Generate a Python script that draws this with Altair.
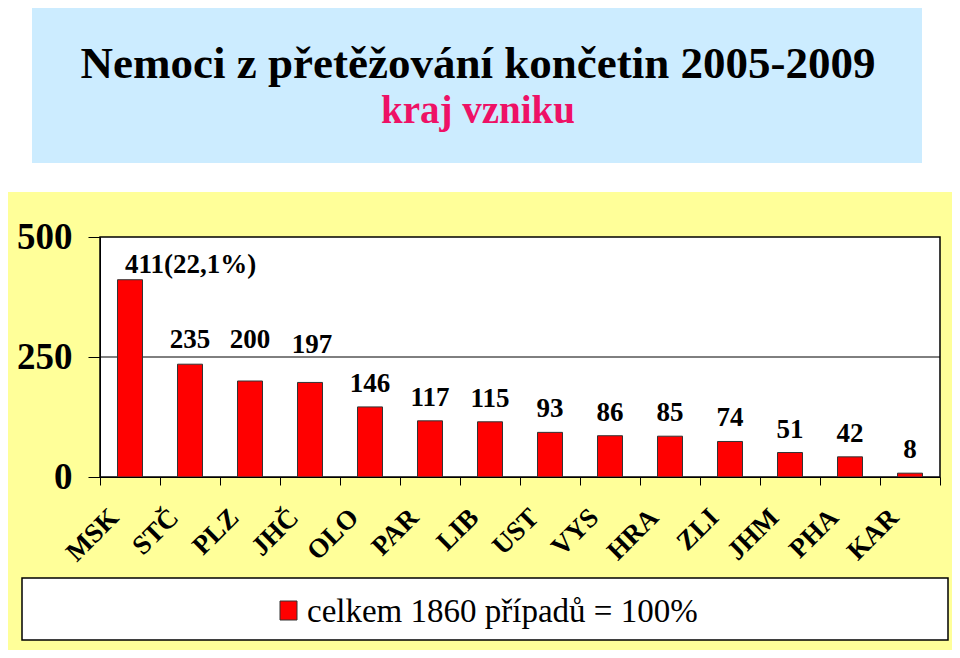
import altair as alt
import pandas as pd

# ---- data ----
regions = ["MSK", "STČ", "PLZ", "JHČ", "OLO", "PAR", "LIB", "UST", "VYS", "HRA", "ZLI", "JHM", "PHA", "KAR"]
values = [411, 235, 200, 197, 146, 117, 115, 93, 86, 85, 74, 51, 42, 8]
total = 1860
y_ticks = [0, 250, 500]
grid_values = [250]
title_text = "Nemoci z přetěžování končetin 2005-2009"
subtitle_text = "kraj vzniku"
legend_text = "celkem 1860 případů = 100%"

labels = [str(v) for v in values]
labels[0] = f"{values[0]}({values[0] / total * 100:.1f}%)".replace(".", ",")

df = pd.DataFrame({"region": regions, "value": values, "label": labels})
df["order"] = range(len(df))
grid_df = pd.DataFrame({"value": grid_values})

FONT = "Liberation Serif, Times New Roman, DejaVu Serif, serif"
one = alt.Data(values=[{}])

# view coords: origin at plot area top-left (page 100,237); plot 840x240
yellow = alt.Chart(one).mark_rect(color="#FFFF99").encode(
    x=alt.value(-92), x2=alt.value(852), y=alt.value(-45), y2=alt.value(413))
blue = alt.Chart(one).mark_rect(color="#CCECFF").encode(
    x=alt.value(-68), x2=alt.value(822), y=alt.value(-229), y2=alt.value(-74))
plot_bg = alt.Chart(one).mark_rect(color="white", stroke="black", strokeWidth=1.5).encode(
    x=alt.value(0), x2=alt.value(840), y=alt.value(0), y2=alt.value(240))
legend_box = alt.Chart(one).mark_rect(color="white", stroke="black", strokeWidth=1.5).encode(
    x=alt.value(-78), x2=alt.value(848), y=alt.value(341), y2=alt.value(403))
legend_sym = alt.Chart(one).mark_rect(color="#FF0000", stroke="#333333", strokeWidth=1).encode(
    x=alt.value(180), x2=alt.value(197), y=alt.value(364), y2=alt.value(383))
legend_lbl = alt.Chart(one).mark_text(font=FONT, fontSize=33, align="left", baseline="alphabetic", color="black").encode(
    x=alt.value(207), y=alt.value(385), text=alt.value(legend_text))
title = alt.Chart(one).mark_text(font=FONT, fontSize=45, fontWeight="bold", align="center", baseline="alphabetic", color="black").encode(
    x=alt.value(378), y=alt.value(-159), text=alt.value(title_text))
subtitle = alt.Chart(one).mark_text(font=FONT, fontSize=39, fontWeight="bold", align="center", baseline="alphabetic", color="#EE1166").encode(
    x=alt.value(378), y=alt.value(-114), text=alt.value(subtitle_text))

x_enc = alt.X("region:N", sort=regions, title=None,
              scale=alt.Scale(paddingInner=0, paddingOuter=0),
              axis=alt.Axis(tickBand="extent", tickSize=8, tickColor="black", domainColor="black",
                            labelAngle=315, labelAlign="right", labelBaseline="middle",
                            labelFont=FONT, labelFontWeight="bold", labelFontSize=27, labelColor="black",
                            labelPadding=28, labelOffset=-16, zindex=1, grid=False))
y_enc = alt.Y("value:Q", title=None,
              scale=alt.Scale(domain=[0, 500], nice=False, zero=True),
              axis=alt.Axis(values=y_ticks, tickSize=12, tickColor="black", domainColor="black",
                            labelFont=FONT, labelFontWeight="bold", labelFontSize=37, labelColor="black",
                            labelPadding=16, zindex=1, grid=False))

grid = alt.Chart(grid_df).mark_rule(color="black", strokeWidth=1).encode(y=alt.Y("value:Q"))

bars = alt.Chart(df).mark_bar(size=25, color="#FF0000", stroke="#333333", strokeWidth=1).encode(
    x=x_enc, y=y_enc)

txt_base = alt.Chart(df).encode(x=alt.X("region:N", sort=regions), y=alt.Y("value:Q"), text="label:N")
txt_main = txt_base.mark_text(font=FONT, fontWeight="bold", fontSize=27, baseline="alphabetic", dy=-15, color="black").transform_filter(
    "datum.order >= 4")
txt_a = txt_base.mark_text(font=FONT, fontWeight="bold", fontSize=27, baseline="alphabetic", dy=-16, color="black").transform_filter(
    "datum.order == 1")
txt_b = txt_base.mark_text(font=FONT, fontWeight="bold", fontSize=27, baseline="alphabetic", dy=-33, color="black").transform_filter(
    "datum.order == 2")
txt_c = txt_base.mark_text(font=FONT, fontWeight="bold", fontSize=27, baseline="alphabetic", dy=-29, dx=2, color="black").transform_filter(
    "datum.order == 3")
txt_first = txt_base.mark_text(font=FONT, fontWeight="bold", fontSize=27, baseline="alphabetic", align="left", dx=-5, dy=-7, color="black").transform_filter(
    "datum.order == 0")

chart = alt.layer(
    yellow, blue, title, subtitle, plot_bg, legend_box, legend_sym, legend_lbl,
    grid, bars, txt_main, txt_a, txt_b, txt_c, txt_first
).properties(
    width=840, height=240,
    autosize=alt.AutoSizeParams(type="none"),
    padding={"left": 92, "top": 229, "right": 12, "bottom": 173},
    background="white",
).configure_view(stroke=None)

chart.save("out.html", embed_options={"renderer": "svg", "actions": False})
